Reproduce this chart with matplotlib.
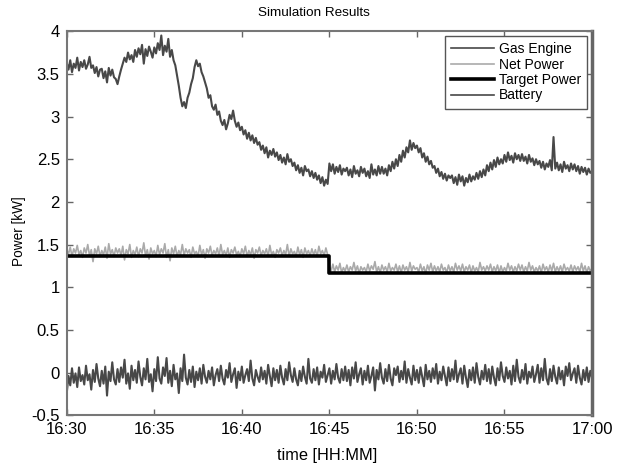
import numpy as np
import pandas as pd
import matplotlib
matplotlib.use("Agg")
import matplotlib.pyplot as plt
import matplotlib.dates as mdates

plt.rcParams['font.family'] = ['Liberation Sans', 'DejaVu Sans']

# 6 s samples from 16:30 to 17:00 (one row = one minute)
gas_engine = [
    3.63, 3.55, 3.66, 3.52, 3.62, 3.57, 3.69, 3.54, 3.64, 3.58,
    3.66, 3.56, 3.61, 3.70, 3.57, 3.60, 3.51, 3.58, 3.47, 3.55,
    3.56, 3.45, 3.53, 3.40, 3.57, 3.48, 3.55, 3.46, 3.44, 3.38,
    3.47, 3.55, 3.62, 3.69, 3.64, 3.75, 3.67, 3.72, 3.64, 3.78,
    3.70, 3.80, 3.73, 3.84, 3.62, 3.79, 3.71, 3.82, 3.76, 3.69,
    3.81, 3.74, 3.86, 3.78, 3.95, 3.72, 3.83, 3.76, 3.91, 3.70,
    3.78, 3.66, 3.60, 3.48, 3.36, 3.22, 3.12, 3.17, 3.10, 3.22,
    3.28, 3.38, 3.45, 3.58, 3.66, 3.59, 3.62, 3.52, 3.47, 3.40,
    3.33, 3.22, 3.25, 3.12, 3.08, 3.14, 3.02, 3.06, 2.95, 2.90,
    2.96, 2.85, 2.92, 3.02, 2.97, 3.07, 2.95, 2.88, 2.93, 2.84,
    2.88, 2.79, 2.84, 2.74, 2.81, 2.72, 2.78, 2.69, 2.75, 2.67,
    2.70, 2.61, 2.66, 2.57, 2.64, 2.52, 2.60, 2.55, 2.62, 2.53,
    2.58, 2.49, 2.55, 2.46, 2.52, 2.44, 2.56, 2.47, 2.50, 2.42,
    2.46, 2.37, 2.43, 2.34, 2.40, 2.31, 2.42, 2.36, 2.38, 2.30,
    2.36, 2.28, 2.34, 2.26, 2.31, 2.22, 2.29, 2.19, 2.26, 2.21,
    2.45, 2.36, 2.44, 2.33, 2.41, 2.35, 2.43, 2.32, 2.39, 2.36,
    2.40, 2.31, 2.38, 2.29, 2.42, 2.33, 2.37, 2.30, 2.41, 2.34,
    2.39, 2.30, 2.36, 2.28, 2.44, 2.32, 2.38, 2.31, 2.42, 2.33,
    2.41, 2.33, 2.39, 2.31, 2.43, 2.36, 2.47, 2.39, 2.50, 2.42,
    2.55, 2.47, 2.60, 2.52, 2.64, 2.58, 2.72, 2.61, 2.69, 2.63,
    2.66, 2.58, 2.63, 2.52, 2.57, 2.47, 2.53, 2.44, 2.48, 2.40,
    2.42, 2.34, 2.39, 2.30, 2.35, 2.27, 2.33, 2.25, 2.31, 2.28,
    2.31, 2.22, 2.29, 2.20, 2.32, 2.24, 2.30, 2.19, 2.28, 2.23,
    2.32, 2.24, 2.30, 2.26, 2.34, 2.27, 2.36, 2.29, 2.38, 2.31,
    2.43, 2.36, 2.46, 2.38, 2.49, 2.41, 2.52, 2.44, 2.50, 2.45,
    2.55, 2.47, 2.58, 2.49, 2.54, 2.46, 2.57, 2.50, 2.55, 2.48,
    2.56, 2.48, 2.53, 2.45, 2.55, 2.47, 2.51, 2.43, 2.50, 2.44,
    2.48, 2.40, 2.47, 2.38, 2.45, 2.41, 2.49, 2.37, 2.76, 2.39,
    2.46, 2.37, 2.44, 2.35, 2.47, 2.39, 2.43, 2.36, 2.45, 2.38,
    2.44, 2.36, 2.42, 2.33, 2.41, 2.35, 2.40, 2.32, 2.39, 2.34,
    2.36,
]

net_power = [
    1.44, 1.39, 1.47, 1.36, 1.45, 1.40, 1.49, 1.38, 1.43, 1.35,
    1.46, 1.40, 1.50, 1.37, 1.44, 1.30, 1.45, 1.39, 1.48, 1.36,
    1.43, 1.38, 1.47, 1.34, 1.51, 1.39, 1.44, 1.36, 1.46, 1.40,
    1.45, 1.37, 1.48, 1.32, 1.44, 1.39, 1.50, 1.35, 1.43, 1.38,
    1.47, 1.36, 1.45, 1.40, 1.52, 1.37, 1.44, 1.33, 1.46, 1.39,
    1.43, 1.36, 1.49, 1.38, 1.45, 1.40, 1.51, 1.35, 1.44, 1.31,
    1.46, 1.39, 1.48, 1.36, 1.43, 1.38, 1.50, 1.37, 1.45, 1.40,
    1.44, 1.35, 1.47, 1.39, 1.42, 1.36, 1.49, 1.38, 1.44, 1.34,
    1.45, 1.40, 1.48, 1.37, 1.43, 1.39, 1.46, 1.36, 1.50, 1.38,
    1.43, 1.37, 1.46, 1.35, 1.44, 1.40, 1.47, 1.38, 1.42, 1.36,
    1.45, 1.39, 1.48, 1.36, 1.43, 1.38, 1.46, 1.34, 1.44, 1.40,
    1.47, 1.37, 1.43, 1.39, 1.45, 1.36, 1.49, 1.38, 1.42, 1.35,
    1.44, 1.40, 1.46, 1.37, 1.43, 1.38, 1.50, 1.36, 1.45, 1.39,
    1.42, 1.36, 1.47, 1.38, 1.44, 1.35, 1.46, 1.39, 1.43, 1.37,
    1.45, 1.38, 1.44, 1.36, 1.48, 1.39, 1.43, 1.37, 1.46, 1.38,
    1.24, 1.19, 1.27, 1.18, 1.25, 1.20, 1.28, 1.17, 1.23, 1.19,
    1.26, 1.18, 1.24, 1.20, 1.29, 1.19, 1.25, 1.16, 1.24, 1.20,
    1.23, 1.18, 1.27, 1.19, 1.25, 1.21, 1.30, 1.18, 1.24, 1.17,
    1.26, 1.20, 1.24, 1.18, 1.28, 1.19, 1.23, 1.20, 1.27, 1.18,
    1.25, 1.17, 1.26, 1.20, 1.24, 1.18, 1.29, 1.19, 1.25, 1.21,
    1.23, 1.18, 1.27, 1.19, 1.24, 1.16, 1.26, 1.20, 1.28, 1.18,
    1.25, 1.19, 1.24, 1.18, 1.27, 1.20, 1.23, 1.17, 1.26, 1.19,
    1.24, 1.18, 1.28, 1.20, 1.25, 1.19, 1.27, 1.18, 1.24, 1.20,
    1.26, 1.17, 1.25, 1.19, 1.23, 1.18, 1.29, 1.20, 1.24, 1.19,
    1.25, 1.20, 1.27, 1.18, 1.24, 1.19, 1.26, 1.17, 1.25, 1.18,
    1.23, 1.19, 1.28, 1.20, 1.25, 1.18, 1.24, 1.19, 1.27, 1.20,
    1.26, 1.18, 1.24, 1.19, 1.29, 1.20, 1.25, 1.18, 1.23, 1.19,
    1.25, 1.17, 1.27, 1.20, 1.24, 1.18, 1.26, 1.19, 1.28, 1.18,
    1.24, 1.19, 1.25, 1.18, 1.27, 1.20, 1.23, 1.19, 1.26, 1.18,
    1.25, 1.20, 1.24, 1.18, 1.28, 1.19, 1.25, 1.17, 1.24, 1.19,
    1.22,
]

battery = [
    -0.24, -0.04, -0.15, 0.05, -0.12, -0.01, -0.17, 0.06, -0.10, -0.03,
    -0.14, 0.08, -0.09, -0.02, -0.20, 0.03, -0.11, 0.10, -0.07, -0.16,
    0.02, -0.13, 0.07, -0.27, 0.01, -0.10, 0.12, -0.08, -0.14, 0.04,
    -0.11, 0.06, -0.06, 0.15, -0.13, -0.01, -0.19, 0.08, -0.09, 0.03,
    -0.12, 0.13, -0.05, -0.15, 0.05, -0.08, 0.16, -0.11, -0.02, -0.22,
    0.04, -0.10, 0.18, -0.07, -0.13, 0.06, -0.04, 0.17, -0.12, 0.02,
    -0.16, 0.09, -0.08, -0.01, -0.24, 0.05, -0.10, 0.21, -0.06, -0.14,
    0.03, -0.11, 0.07, -0.17, 0.01, -0.09, 0.05, -0.13, 0.09, -0.05,
    -0.12, 0.02, -0.08, 0.06, -0.15, -0.03, 0.04, -0.10, 0.08, -0.07,
    -0.14, 0.03, -0.06, 0.11, -0.11, -0.02, 0.05, -0.18, 0.01, -0.09,
    0.07, -0.12, -0.03, 0.04, -0.10, 0.14, -0.07, -0.15, 0.03, -0.05,
    -0.11, 0.06, -0.08, 0.02, -0.13, 0.09, -0.04, -0.16, 0.05, -0.09,
    0.03, -0.12, 0.08, -0.06, -0.14, 0.04, -0.09, 0.12, -0.03, -0.11,
    0.05, -0.08, -0.15, 0.02, -0.10, 0.07, -0.05, -0.13, 0.16, -0.07,
    -0.12, 0.04, -0.09, 0.06, -0.14, 0.01, -0.06, 0.09, -0.11, -0.03,
    0.05, -0.13, 0.02, -0.08, 0.10, -0.06, -0.12, 0.04, -0.09, 0.07,
    -0.10, 0.03, -0.15, 0.06, -0.07, 0.12, -0.11, -0.02, 0.05, -0.14,
    0.02, -0.09, 0.08, -0.12, -0.04, 0.06, -0.21, 0.03, -0.08, 0.11,
    -0.06, -0.13, 0.04, -0.10, 0.09, -0.07, -0.15, 0.05, -0.03, 0.07,
    -0.11, 0.02, -0.08, 0.13, -0.12, 0.04, -0.06, -0.14, 0.08, -0.09,
    0.03, -0.12, 0.06, -0.05, -0.16, 0.09, -0.08, 0.02, -0.11, 0.05,
    -0.07, 0.10, -0.13, 0.01, -0.09, 0.07, -0.04, -0.15, 0.06, -0.10,
    0.04, -0.08, 0.14, -0.11, -0.02, 0.05, -0.13, 0.08, -0.06, -0.17,
    0.03, -0.09, 0.06, -0.12, 0.11, -0.05, -0.14, 0.02, -0.08, 0.09,
    -0.10, 0.04, -0.13, 0.07, -0.06, -0.15, 0.05, -0.09, 0.12, -0.04,
    -0.11, 0.06, -0.07, 0.02, -0.14, 0.08, -0.10, 0.15, -0.05, -0.12,
    0.03, -0.08, 0.10, -0.13, 0.01, -0.06, 0.07, -0.11, -0.02, 0.09,
    -0.12, 0.05, -0.09, 0.16, -0.07, -0.14, 0.04, -0.10, 0.08, -0.05,
    -0.13, 0.06, -0.08, 0.02, -0.15, 0.07, -0.04, 0.11, -0.09, -0.01,
    0.05, -0.12, 0.08, -0.06, -0.14, 0.03, -0.09, 0.06, -0.11, 0.02,
    -0.06,
]

# target power setpoint changes at 16:45
target_times = ["16:30", "16:45", "17:00"]
target_power = [1.37, 1.17, 1.17]

day = "2020-01-01 "
t = pd.date_range(day + "16:30", day + "17:00", periods=len(gas_engine))
t_target = pd.to_datetime([day + s for s in target_times])

fig = plt.figure(figsize=(6.18, 4.66), dpi=100)
ax = fig.add_axes([0.108, 0.109, 0.850, 0.824])

ax.plot(t, gas_engine, color="#484848", lw=1.5, label="Gas Engine")
ax.plot(t, net_power, color="#aaaaaa", lw=1.2, label="Net Power")
ax.plot(t_target, target_power, color="black", lw=2.6, drawstyle="steps-post",
        label="Target Power")
ax.plot(t, battery, color="#484848", lw=1.5, label="Battery")

ax.set_xlim(t[0], t[-1])
ax.set_ylim(-0.5, 4)
ax.set_yticks([-0.5, 0, 0.5, 1, 1.5, 2, 2.5, 3, 3.5, 4])
ax.set_yticklabels(["-0.5", "0", "0.5", "1", "1.5", "2", "2.5", "3", "3.5", "4"])
ax.xaxis.set_major_locator(mdates.MinuteLocator(byminute=range(0, 60, 5)))
ax.xaxis.set_major_formatter(mdates.DateFormatter("%H:%M"))

ax.tick_params(direction="in", top=True, right=True, length=4, width=1,
               color="#666666", labelsize=12, pad=5)
for name, sp in ax.spines.items():
    sp.set_color("#777777")
    sp.set_linewidth(1.5)
ax.spines["right"].set_linewidth(2.5)
ax.spines["right"].set_color("#666666")

ax.set_title("Simulation Results", fontsize=9.7, x=0.47, pad=11)
ax.set_xlabel("time [HH:MM]", fontsize=11.8)
ax.xaxis.set_label_coords(0.495, -0.085)
ax.set_ylabel("Power [kW]", fontsize=9.8)
ax.yaxis.set_label_coords(-0.077, 0.48)

leg = ax.legend(loc="upper right", fontsize=10, labelspacing=0.1,
                handlelength=3.1, handletextpad=0.35, borderpad=0.45,
                borderaxespad=0.35, fancybox=False, framealpha=1)
leg.get_frame().set_edgecolor("#555555")
leg.get_frame().set_linewidth(1.0)
for line in leg.get_lines():
    line.set_linewidth(2.6 if line.get_label() == "Target Power" else 1.2)

fig.savefig("out.png", dpi=100)
